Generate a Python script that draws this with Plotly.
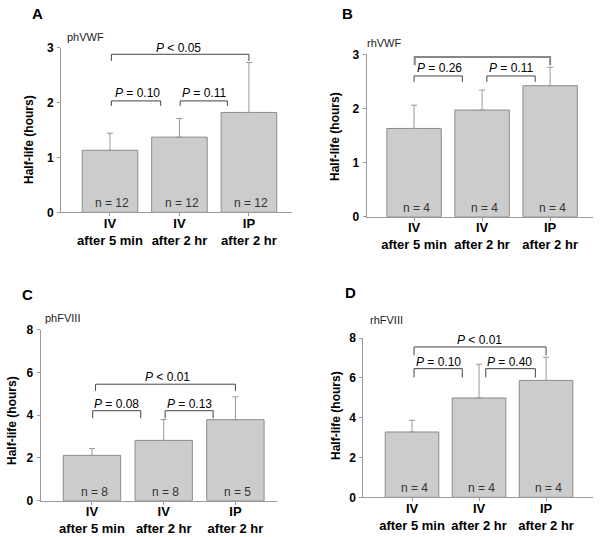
import plotly.graph_objects as go

W, H = 600, 537

# ---------------- data ----------------
categories = ["IV<br>after 5 min", "IV<br>after 2 hr", "IP<br>after 2 hr"]
panel_letters = ["A", "B", "C", "D"]
panel_names = ["phVWF", "rhVWF", "phFVIII", "rhFVIII"]

means_A = [1.13, 1.37, 1.82]
err_A = [0.31, 0.34, 0.91]
n_A = ["n = 12", "n = 12", "n = 12"]

means_B = [1.63, 1.97, 2.42]
err_B = [0.43, 0.37, 0.34]
n_B = ["n = 4", "n = 4", "n = 4"]

means_C = [2.12, 2.82, 3.79]
err_C = [0.32, 0.98, 1.07]
n_C = ["n = 8", "n = 8", "n = 5"]

means_D = [3.28, 4.99, 5.87]
err_D = [0.59, 1.69, 1.16]
n_D = ["n = 4", "n = 4", "n = 4"]

y_max = [3, 3, 8, 8]
y_dtick = [1, 1, 2, 2]

# significance brackets: (x0, x1, y_top, y_tick_end, label, label_x, label_y)
brackets_A = [
    (0.02, 2.0, 2.88, 2.76, "<i>P</i> < 0.05", 0.98, 3.0),
    (0.02, 0.73, 2.03, 1.94, "<i>P</i> = 0.10", 0.40, 2.17),
    (1.01, 1.69, 2.03, 1.94, "<i>P</i> = 0.11", 1.35, 2.17),
]
brackets_B = [
    (0.01, 2.0, 2.95, 2.80, "P < 0.05", 0.92, 3.09),
    (0.0, 0.71, 2.60, 2.49, "<i>P</i> = 0.26", 0.37, 2.75),
    (1.07, 1.78, 2.60, 2.49, "<i>P</i> = 0.11", 1.43, 2.75),
]
brackets_C = [
    (0.05, 2.0, 5.45, 5.14, "<i>P</i> < 0.01", 1.06, 5.79),
    (0.01, 0.68, 4.21, 3.86, "<i>P</i> = 0.08", 0.34, 4.53),
    (1.02, 1.69, 4.21, 3.86, "<i>P</i> = 0.13", 1.36, 4.53),
]
brackets_D = [
    (0.03, 2.0, 7.55, 7.13, "<i>P</i> < 0.01", 1.01, 7.91),
    (0.03, 0.75, 6.46, 6.02, "<i>P</i> = 0.10", 0.39, 6.78),
    (1.10, 1.84, 6.46, 6.02, "<i>P</i> = 0.40", 1.46, 6.78),
]

# ---------------- layout geometry (pixels) ----------------
# (axis_left_px, axis_right_px, y0_px, ytop_px, xrange)
geom = [
    (61, 292, 212.3, 47.7, [-0.705, 2.62]),
    (366.7, 593, 216.7, 54.3, [-0.696, 2.63]),
    (40.7, 277, 500.7, 329.7, [-0.715, 2.58]),
    (363.3, 593, 497.3, 338, [-0.727, 2.70]),
]
title_pos = [(29, 140), (335, 137), (12, 421), (336, 416)]
letter_pos = [(37, 13), (347, 14), (27, 294), (350, 292)]
name_pos = [(65, 37), (365, 42.7), (42.7, 318), (368, 319.7)]

means = [means_A, means_B, means_C, means_D]
errs = [err_A, err_B, err_C, err_D]
ns = [n_A, n_B, n_C, n_D]
brackets = [brackets_A, brackets_B, brackets_C, brackets_D]

FONT = "Liberation Sans, Arial, sans-serif"
BAR_FILL = "#cccccc"
BAR_LINE = "#8c8c8c"
AXIS_COL = "#9a9a9a"
BRACKET_COL = "#444444"

fig = go.Figure()
layout_axes = {}
annotations = []
shapes = []

xcat = [0, 1, 2]

for i in range(4):
    sfx = "" if i == 0 else str(i + 1)
    xa, ya = "x" + sfx, "y" + sfx
    xl, xr, y0p, ytp, xrng = geom[i]

    fig.add_trace(go.Bar(
        x=xcat, y=means[i], width=0.8,
        marker=dict(color=BAR_FILL, line=dict(color=BAR_LINE, width=1)),
        error_y=dict(type="data", array=errs[i], arrayminus=[0, 0, 0],
                     symmetric=False, color="#999999", thickness=1, width=3),
        xaxis=xa, yaxis=ya, showlegend=False, hoverinfo="skip",
    ))

    layout_axes["xaxis" + sfx] = dict(
        domain=[xl / W, xr / W], range=xrng, anchor=ya, automargin=False,
        tickvals=xcat, ticktext=["<b>" + c.replace("<br>", "</b><br><b>") + "</b>" for c in categories],
        tickfont=dict(family=FONT, size=13, color="#000000"),
        showline=True, linecolor=AXIS_COL, linewidth=1,
        ticks="outside", ticklen=3, tickcolor=AXIS_COL, ticklabelstandoff=-4,
        showgrid=False, zeroline=False, fixedrange=True,
    )
    layout_axes["yaxis" + sfx] = dict(
        domain=[(H - y0p) / H, (H - ytp) / H], range=[0, y_max[i]], anchor=xa,
        automargin=False,
        dtick=y_dtick[i], tick0=0,
        tickfont=dict(family=FONT, size=12, color="#000000", weight="bold"),
        showline=True, linecolor=AXIS_COL, linewidth=1,
        ticks="outside", ticklen=3, tickcolor=AXIS_COL, ticklabelstandoff=1,
        showgrid=False, zeroline=False, fixedrange=True,
    )

    # n labels
    for k in range(3):
        annotations.append(dict(
            x=xcat[k] + 0.03, y=0, xref=xa, yref=ya, text=ns[i][k], showarrow=False,
            xanchor="center", yanchor="bottom", yshift=0,
            font=dict(family=FONT, size=12, color="#333333"),
        ))

    # brackets
    for j, (bx0, bx1, byt, bye, lab, lx, ly) in enumerate(brackets[i]):
        col = BRACKET_COL
        lw = 1
        if i == 1 and j == 0:
            col = "#888888"
            lw = 2
        path = f"M {bx0} {bye} L {bx0} {byt} L {bx1} {byt} L {bx1} {bye}"
        shapes.append(dict(type="path", path=path, xref=xa, yref=ya,
                           line=dict(color=col, width=lw)))
        annotations.append(dict(
            x=lx, y=ly, xref=xa, yref=ya, text=lab, showarrow=False,
            xanchor="center", yanchor="middle",
            font=dict(family=FONT, size=12, color="#000000"),
        ))

    # y title
    tx, ty = title_pos[i]
    annotations.append(dict(
        x=tx / W, y=(H - ty) / H, xref="paper", yref="paper",
        xanchor="center", yanchor="middle",
        text="<b>Half-life (hours)</b>", textangle=-90, showarrow=False,
        font=dict(family=FONT, size=12, color="#000000"),
    ))
    # panel letter
    lx_, ly_ = letter_pos[i]
    annotations.append(dict(
        x=lx_ / W, y=(H - ly_) / H, xref="paper", yref="paper",
        xanchor="center", yanchor="middle",
        text="<b>" + panel_letters[i] + "</b>", showarrow=False,
        font=dict(family=FONT, size=15, color="#000000"),
    ))
    # panel name
    nx, ny = name_pos[i]
    annotations.append(dict(
        x=nx / W, y=(H - ny) / H, xref="paper", yref="paper",
        xanchor="left", yanchor="middle",
        text=panel_names[i], showarrow=False,
        font=dict(family=FONT, size=11, color="#222222"),
    ))

fig.update_layout(
    width=W, height=H,
    margin=dict(l=0, r=0, t=0, b=0, autoexpand=False),
    paper_bgcolor="white", plot_bgcolor="white",
    annotations=annotations, shapes=shapes,
    bargap=0.2,
    **layout_axes,
)

fig.write_html("out.html", config={"displayModeBar": False},
               post_script="document.body.style.margin='0';document.body.style.overflow='hidden';")
